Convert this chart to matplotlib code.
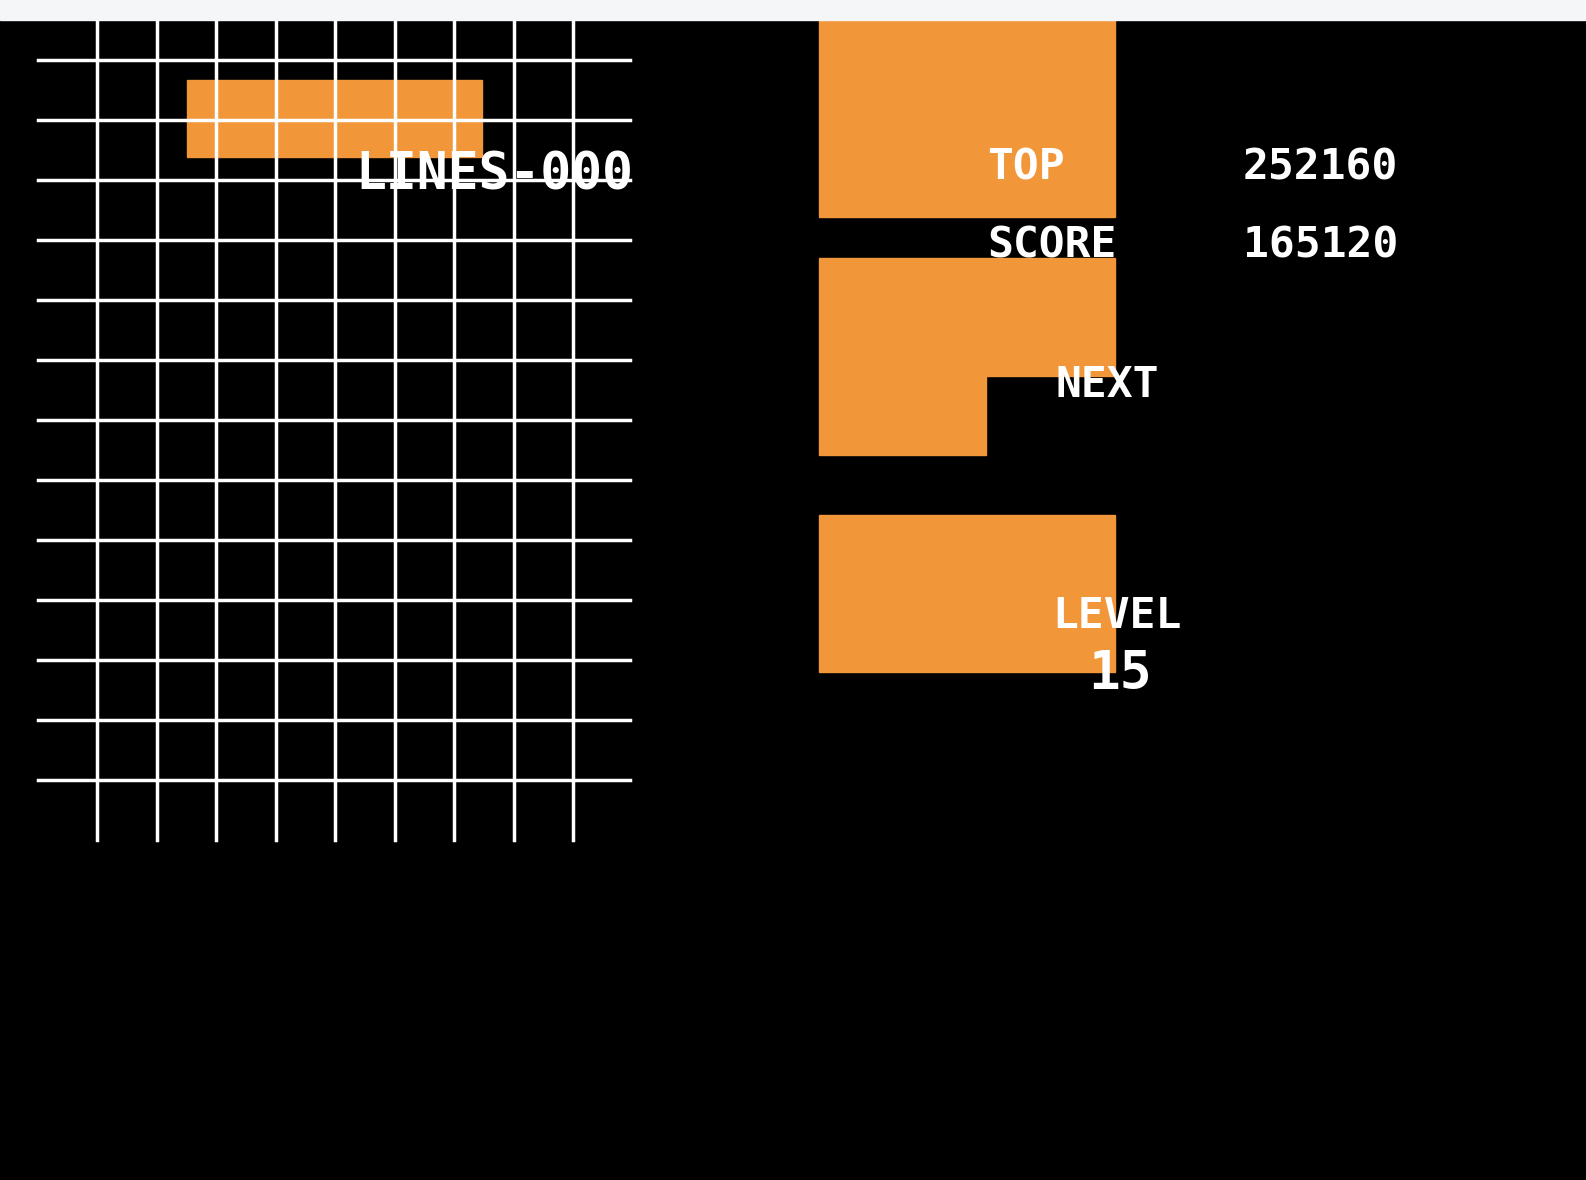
import matplotlib.pyplot as plt
from matplotlib.patches import Rectangle

# screen geometry in pixels
W, H = 1586, 1180
orange = '#F2963A'

grid_rows = [60, 120, 180, 240, 300, 360, 420, 480, 540, 600, 660, 720, 780]
grid_cols = [97, 157, 216, 276, 335, 395, 454, 514, 573]

# blocks: (x, y, width, height)
blocks = [
    (187, 80, 295, 77),
    (819, 20, 296, 197),
    (819, 258, 296, 118),
    (819, 376, 167, 79),
    (819, 515, 296, 157),
]

labels = [
    ('LINES-000', 355, 176, 37),
    ('TOP', 987, 168, 31),
    ('252160', 1243, 168, 31),
    ('SCORE', 987, 246, 31),
    ('165120', 1243, 246, 31),
    ('LEVEL', 1052, 616, 31),
    ('15', 1088, 674, 38),
]

fig = plt.figure(figsize=(W / 100, H / 100), dpi=100)
fig.patch.set_facecolor('black')
ax = fig.add_axes([0, 0, 1, 1])
ax.set_xlim(0, W)
ax.set_ylim(H, 0)
ax.axis('off')

# light bar at top
ax.add_patch(Rectangle((0, 0), W, 20, color='#f5f6f8', zorder=5))

for (x, y, w, h) in blocks:
    ax.add_patch(Rectangle((x, y), w, h, color=orange, zorder=1))

for y in grid_rows:
    ax.plot([38, 630], [y, y], color='white', lw=2.5, zorder=2)
for x in grid_cols:
    ax.plot([x, x], [20, 840], color='white', lw=2.5, zorder=2)

for (txt, x, y, size) in labels:
    ax.text(x, y, txt, color='white', fontsize=size, fontweight='bold',
            family='DejaVu Sans Mono', va='center', ha='left', zorder=3)

# NEXT is cut off below y=376
t = ax.text(1055, 385, 'NEXT', color='white', fontsize=31, fontweight='bold',
            family='DejaVu Sans Mono', va='center', ha='left', zorder=3)
clip = Rectangle((1000, 355), 200, 21, transform=ax.transData)
t.set_clip_path(clip)

fig.savefig('out.png', dpi=100, facecolor='black')
